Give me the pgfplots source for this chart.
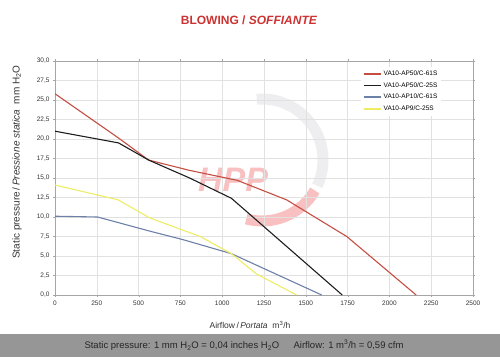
\documentclass[border=0pt]{standalone}
\usepackage{fontspec}
\setmainfont{Liberation Sans}
\usepackage{pgfplots}
\pgfplotsset{compat=1.18}
\definecolor{cred}{RGB}{196,78,66}
\definecolor{cblack}{RGB}{30,30,30}
\definecolor{cblue}{RGB}{108,128,168}
\definecolor{cyellow}{RGB}{238,236,100}
\definecolor{titlered}{RGB}{205,50,50}
\definecolor{band}{RGB}{150,150,150}
\definecolor{gridc}{RGB}{225,225,225}
\definecolor{wmgray}{RGB}{238,238,240}
\definecolor{wmred}{RGB}{248,192,192}
\begin{document}
\begin{tikzpicture}[x=1pt,y=1pt]
\useasboundingbox (0,0) rectangle (500,357);
\fill[band] (0,0) rectangle (500,23);
\node[font=\fontsize{9.5}{9.5}\selectfont, text=black!85] at (244,11.5) {Static pressure: 1 mm H\textsubscript{2}O = 0,04 inches H\textsubscript{2}O\hspace{1.5em}Airflow: 1 m\textsuperscript{3}/h = 0,59 cfm};
\node[font=\bfseries\fontsize{12}{12}\selectfont, text=titlered] at (249,337) {BLOWING / \textit{SOFFIANTE}};
\node[font=\fontsize{8.5}{8.5}\selectfont, text=black!80] at (250,32) {Airflow\,/\,\textit{Portata}\ \ m\textsuperscript{3}/h};
\node[font=\fontsize{10}{10}\selectfont, text=black!80, rotate=90] at (17,195) {Static pressure\,/\,\textit{Pressione statica}\ \ mm\ H\textsubscript{2}O};
% watermark
\draw[line width=11pt, wmgray] (262,197) ++(95:61) arc (95:-25:61);
\draw[line width=11pt, wmred] (262,197) ++(-30:61) arc (-30:-105:61);
\node[font=\bfseries\itshape\fontsize{34}{34}\selectfont, text=wmred] at (233,177) {HPP};
\begin{axis}[
  at={(55pt,62pt)}, anchor=south west,
  scale only axis, width=418pt, height=234pt,
  xmin=0, xmax=2500, ymin=0, ymax=30,
  xtick={0,250,...,2500}, ytick={0,2.5,...,30},
  grid=major, major grid style={gridc, line width=0.5pt},
  axis line style={black!35},
  tick style={black!35}, tick align=outside, major tick length=2pt,
  x tick label style={/pgf/number format/1000 sep={}},
  y tick label style={/pgf/number format/.cd, fixed, fixed zerofill, precision=1, use comma},
  /pgf/number format/assume math mode=true,
  tick label style={font=\fontsize{6.5}{6.5}\selectfont, text=black!80},
  legend style={at={(axis cs:1830,29.3)}, anchor=north west, draw=none, fill=white,
    font=\fontsize{6.5}{6.5}\selectfont, row sep=1.5pt, inner sep=2pt},
  legend cell align=left,
  legend image code/.code={\draw[#1] (0pt,0pt) -- (17pt,0pt);},
]
\addplot[cred, line width=1.1pt, forget plot] coordinates {(0,25.8) (375,20.2) (560,17.3) (800,16.0) (1090,14.7) (1385,12.2) (1745,7.5) (2160,0)};
\addplot[cblack, line width=1.1pt, forget plot] coordinates {(0,21.0) (380,19.5) (560,17.3) (805,15.0) (1055,12.4) (1205,9.6) (1718,0)};
\addplot[cblue, line width=1.1pt, forget plot] coordinates {(0,10.1) (255,10.0) (565,8.2) (765,7.1) (1055,5.3) (1595,0)};
\addplot[cyellow, line width=1.1pt, forget plot] coordinates {(0,14.1) (378,12.2) (565,9.9) (868,7.5) (1055,5.3) (1205,2.7) (1445,0)};
\addlegendimage{draw=cred, line width=1.5pt}
\addlegendentry{VA10-AP50/C-61S}
\addlegendimage{draw=cblack, line width=1.5pt}
\addlegendentry{VA10-AP50/C-25S}
\addlegendimage{draw=cblue, line width=1.5pt}
\addlegendentry{VA10-AP10/C-61S}
\addlegendimage{draw=cyellow, line width=1.5pt}
\addlegendentry{VA10-AP9/C-25S}
\end{axis}
\end{tikzpicture}
\end{document}
